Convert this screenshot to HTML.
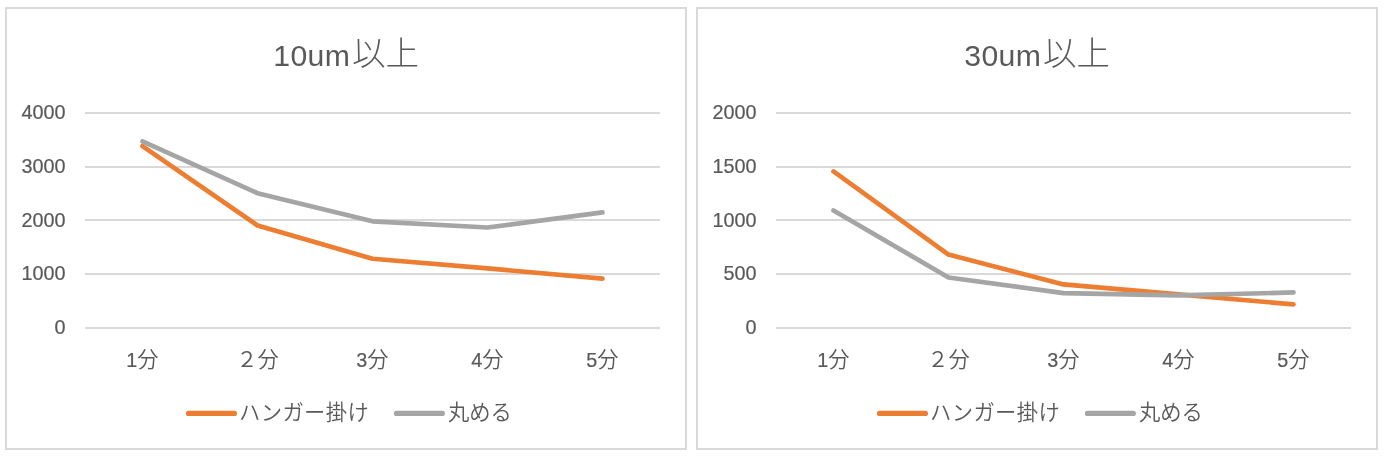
<!DOCTYPE html>
<html lang="ja"><head><meta charset="utf-8"><title>chart</title>
<style>
html,body{margin:0;padding:0;background:#fff;}
body{width:1384px;height:456px;overflow:hidden;}
svg{display:block;}
text{fill:#595959;}
.ax{font-family:"Liberation Sans", "Noto Sans CJK JP", sans-serif;font-size:19.8px;stroke:#595959;stroke-width:0.2px;}
.cj{font-family:"Noto Sans CJK JP", "Liberation Sans", sans-serif;font-size:21.3px;font-weight:350;}
.tl{font-family:"Liberation Sans", "Noto Sans CJK JP", sans-serif;font-size:30.2px;letter-spacing:0.35px;}
.tc{font-family:"Noto Sans CJK JP", "Liberation Sans", sans-serif;font-size:33.5px;font-weight:300;}
</style></head><body>
<svg width="1384" height="456" viewBox="0 0 1384 456">
<rect width="1384" height="456" fill="#fff"/>
<rect x="6" y="8" width="680" height="441" fill="#fff" stroke="#d9d9d9" stroke-width="2"/>
<rect x="85" y="112" width="575" height="2" fill="#d9d9d9"/>
<rect x="85" y="166" width="575" height="2" fill="#d9d9d9"/>
<rect x="85" y="219" width="575" height="2" fill="#d9d9d9"/>
<rect x="85" y="273" width="575" height="2" fill="#d9d9d9"/>
<rect x="85" y="327" width="575" height="2" fill="#d9d9d9"/>
<text x="65.6" y="119.20" text-anchor="end" class="ax">4000</text>
<text x="65.6" y="172.95" text-anchor="end" class="ax">3000</text>
<text x="65.6" y="226.70" text-anchor="end" class="ax">2000</text>
<text x="65.6" y="280.45" text-anchor="end" class="ax">1000</text>
<text x="65.6" y="334.20" text-anchor="end" class="ax">0</text>
<text x="142.5" y="367" text-anchor="middle"><tspan class="ax">1</tspan><tspan class="cj">分</tspan></text>
<text x="257.5" y="367" text-anchor="middle" class="cj">２分</text>
<text x="372.5" y="367" text-anchor="middle"><tspan class="ax">3</tspan><tspan class="cj">分</tspan></text>
<text x="487.5" y="367" text-anchor="middle"><tspan class="ax">4</tspan><tspan class="cj">分</tspan></text>
<text x="602.5" y="367" text-anchor="middle"><tspan class="ax">5</tspan><tspan class="cj">分</tspan></text>
<text x="273.3" y="65.8" class="tl">10um</text>
<text x="352" y="65.1" class="tc">以上</text>
<polyline points="142.50,146.06 257.50,225.50 372.50,258.77 487.50,268.44 602.50,278.55" fill="none" stroke="#ed7d31" stroke-width="4.7" stroke-linecap="round" stroke-linejoin="round"/>
<polyline points="142.50,141.38 257.50,193.19 372.50,221.31 487.50,227.49 602.50,212.44" fill="none" stroke="#a5a5a5" stroke-width="4.7" stroke-linecap="round" stroke-linejoin="round"/>
<line x1="188.5" y1="413.45" x2="234.4" y2="413.45" stroke="#ed7d31" stroke-width="5.2" stroke-linecap="round"/>
<text x="239" y="420" class="cj" style="letter-spacing:0.4px">ハンガー掛け</text>
<line x1="396.5" y1="413.45" x2="442.3" y2="413.45" stroke="#a5a5a5" stroke-width="5.2" stroke-linecap="round"/>
<text x="448" y="420" class="cj">丸める</text>
<rect x="697" y="8" width="680" height="441" fill="#fff" stroke="#d9d9d9" stroke-width="2"/>
<rect x="776" y="112" width="575" height="2" fill="#d9d9d9"/>
<rect x="776" y="166" width="575" height="2" fill="#d9d9d9"/>
<rect x="776" y="219" width="575" height="2" fill="#d9d9d9"/>
<rect x="776" y="273" width="575" height="2" fill="#d9d9d9"/>
<rect x="776" y="327" width="575" height="2" fill="#d9d9d9"/>
<text x="756.6" y="119.20" text-anchor="end" class="ax">2000</text>
<text x="756.6" y="172.95" text-anchor="end" class="ax">1500</text>
<text x="756.6" y="226.70" text-anchor="end" class="ax">1000</text>
<text x="756.6" y="280.45" text-anchor="end" class="ax">500</text>
<text x="756.6" y="334.20" text-anchor="end" class="ax">0</text>
<text x="833.5" y="367" text-anchor="middle"><tspan class="ax">1</tspan><tspan class="cj">分</tspan></text>
<text x="948.5" y="367" text-anchor="middle" class="cj">２分</text>
<text x="1063.5" y="367" text-anchor="middle"><tspan class="ax">3</tspan><tspan class="cj">分</tspan></text>
<text x="1178.5" y="367" text-anchor="middle"><tspan class="ax">4</tspan><tspan class="cj">分</tspan></text>
<text x="1293.5" y="367" text-anchor="middle"><tspan class="ax">5</tspan><tspan class="cj">分</tspan></text>
<text x="964.3" y="65.8" class="tl">30um</text>
<text x="1043" y="65.1" class="tc">以上</text>
<polyline points="833.50,171.37 948.50,254.58 1063.50,284.46 1178.50,294.46 1293.50,304.35" fill="none" stroke="#ed7d31" stroke-width="4.7" stroke-linecap="round" stroke-linejoin="round"/>
<polyline points="833.50,210.50 948.50,277.48 1063.50,293.06 1178.50,295.43 1293.50,292.42" fill="none" stroke="#a5a5a5" stroke-width="4.7" stroke-linecap="round" stroke-linejoin="round"/>
<line x1="879.5" y1="413.45" x2="925.4" y2="413.45" stroke="#ed7d31" stroke-width="5.2" stroke-linecap="round"/>
<text x="930" y="420" class="cj" style="letter-spacing:0.4px">ハンガー掛け</text>
<line x1="1087.5" y1="413.45" x2="1133.3" y2="413.45" stroke="#a5a5a5" stroke-width="5.2" stroke-linecap="round"/>
<text x="1139" y="420" class="cj">丸める</text>
</svg>
</body></html>
